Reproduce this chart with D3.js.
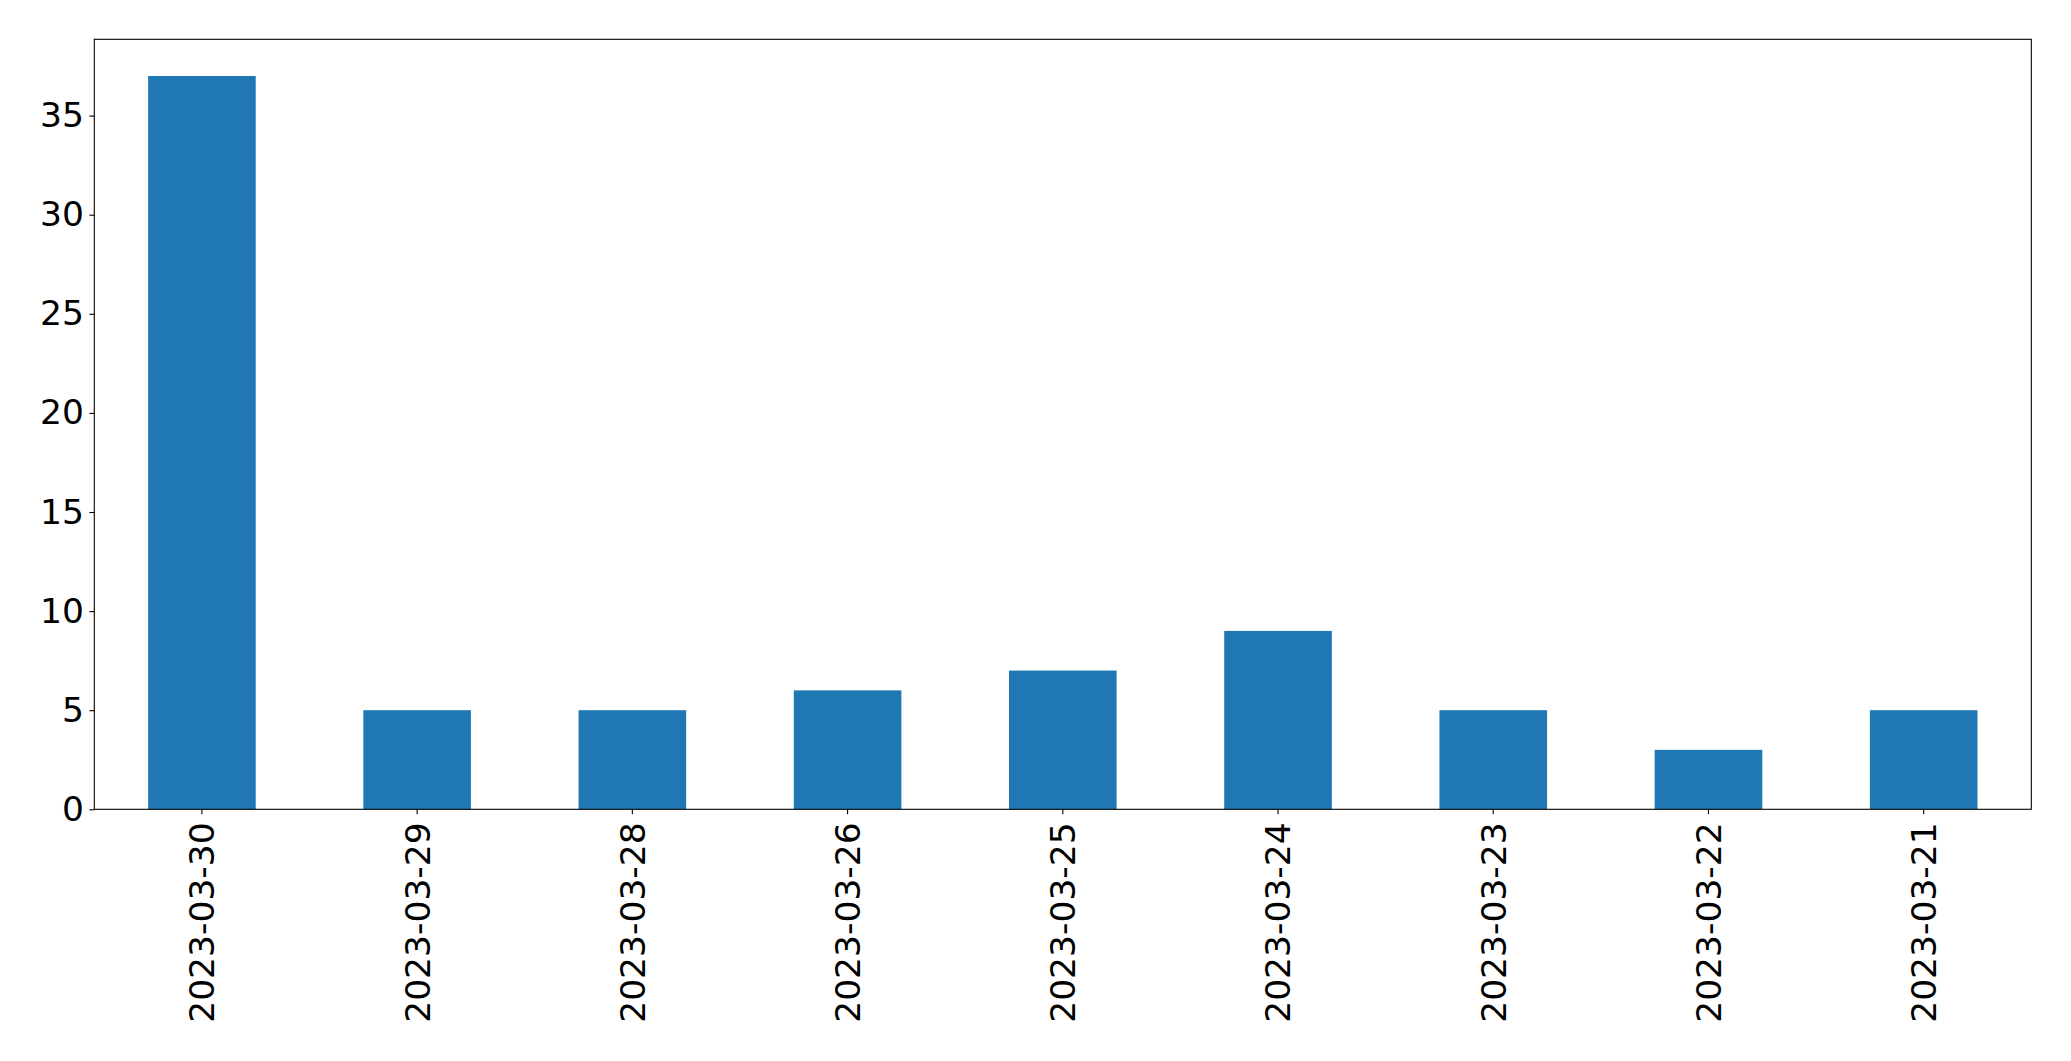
<!DOCTYPE html>
<html><head><meta charset="utf-8">
<script src="https://cdn.jsdelivr.net/npm/d3@7"></script>
<style>body{margin:0;background:#fff}svg{display:block}text{font-family:"DejaVu Sans",sans-serif}</style>
</head><body>
<script>
const categories = ["2023-03-30","2023-03-29","2023-03-28","2023-03-26","2023-03-25","2023-03-24","2023-03-23","2023-03-22","2023-03-21"];
const values = [37,5,5,6,7,9,5,3,5];
const yTicks = [0,5,10,15,20,25,30,35];

const W=2071,H=1061;
const m={left:94.3,top:39.3,right:2031.3,bottom:809.3};
const svg=d3.select("body").append("svg").attr("width",W).attr("height",H);
const x=d3.scaleBand().domain(categories).range([m.left,m.right]).paddingInner(0.5).paddingOuter(0.25);
const y=d3.scaleLinear().domain([0,d3.max(values)*1.05]).range([m.bottom,m.top]);

svg.append("g").selectAll("rect").data(values).join("rect")
  .attr("x",(d,i)=>x(categories[i])).attr("width",x.bandwidth())
  .attr("y",d=>y(d)).attr("height",d=>y(0)-y(d)).attr("fill","#1f77b4");

const fs=34.5;
const ya=svg.append("g").attr("transform",`translate(${m.left},0)`)
  .call(d3.axisLeft(y).tickValues(yTicks).tickSize(4.9).tickPadding(5.5));
ya.select(".domain").remove();
ya.selectAll("text").attr("font-size",fs).attr("fill","#000").attr("font-family","DejaVu Sans");
ya.selectAll("line").attr("stroke","#000").attr("stroke-width",1.1);

const xa=svg.append("g").attr("transform",`translate(0,${m.bottom})`)
  .call(d3.axisBottom(x).tickSize(4.9).tickPadding(0));
xa.select(".domain").remove();
xa.selectAll("line").attr("stroke","#000").attr("stroke-width",1.1);
xa.selectAll("text").attr("font-size",fs).attr("fill","#000").attr("font-family","DejaVu Sans")
  .attr("transform","rotate(-90)").attr("text-anchor","end").attr("x",-13).attr("y",0).attr("dy","0.36em");

svg.append("rect").attr("x",m.left).attr("y",m.top).attr("width",m.right-m.left).attr("height",m.bottom-m.top)
  .attr("fill","none").attr("stroke","#000").attr("stroke-width",1.1);
</script>
</body></html>
